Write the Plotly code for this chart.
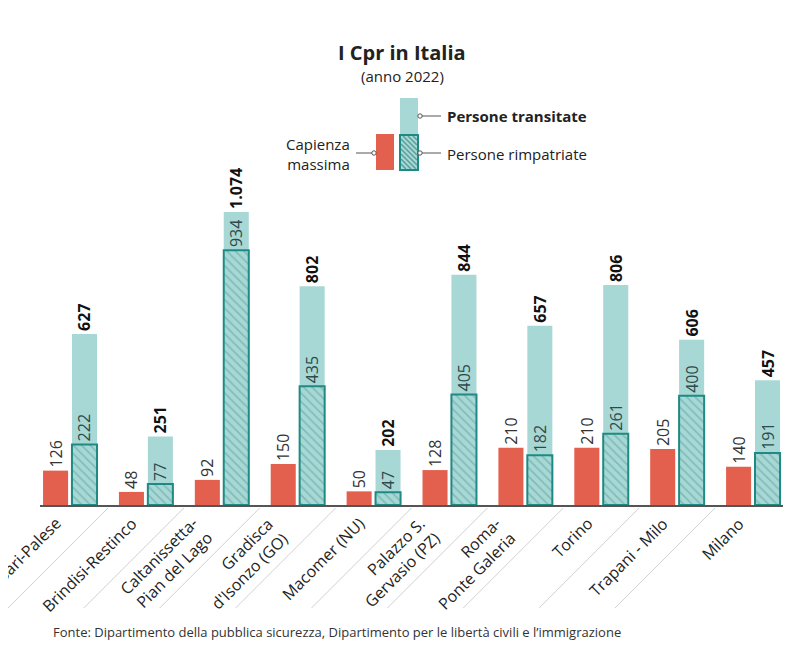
import plotly.graph_objects as go

# ---------------- data ----------------
categories = ["Bari-Palese", "Brindisi-Restinco", "Caltanissetta-Pian del Lago",
              "Gradisca d'Isonzo (GO)", "Macomer (NU)", "Palazzo S. Gervasio (PZ)",
              "Roma-Ponte Galeria", "Torino", "Trapani - Milo", "Milano"]
tick_labels = ["Bari-Palese", "Brindisi-Restinco", "Caltanissetta-<br>Pian del Lago",
               "Gradisca<br>d'Isonzo (GO)", "Macomer (NU)", "Palazzo S.<br>Gervasio (PZ)",
               "Roma-<br>Ponte Galeria", "Torino", "Trapani - Milo", "Milano"]
capienza = [126, 48, 92, 150, 50, 128, 210, 210, 205, 140]
transitate = [627, 251, 1074, 802, 202, 844, 657, 806, 606, 457]
rimpatriate = [222, 77, 934, 435, 47, 405, 182, 261, 400, 191]

# ---------------- style ----------------
OFF = 8  # page body margin
W, H = 800 - OFF, 652 - OFF
ML, MR, MT, MB = 40 - OFF, 17, 183 - OFF, 147
PW, PH = W - ML - MR, H - MT - MB
XR = [-0.395, 9.395]
FONT = "Open Sans"
RED = "#e4604e"
LIGHT = "#a8d8d5"
DARK = "#1f8a83"
HATCH = "#5a9f9b"

def it(v):
    return f"{v:,}".replace(",", ".")

def px2p(x, y):
    return (x - OFF - ML) / PW, (H - MB - (y - OFF)) / PH

fig = go.Figure()
fig.add_bar(x=categories, y=capienza, offset=-0.355, width=0.33,
            marker=dict(color=RED, line=dict(width=0)),
            text=[str(v) for v in capienza], textposition="outside", textangle=-90,
            constraintext="none",
            textfont=dict(family=FONT, size=16, color="#333333"), cliponaxis=False)
fig.add_bar(x=categories, y=transitate, offset=0.026, width=0.33,
            marker=dict(color=LIGHT, line=dict(width=0)),
            text=[f"<b>{it(v)}</b>" for v in transitate], textposition="outside", textangle=-90,
            constraintext="none",
            textfont=dict(family=FONT, size=16, color="#111111"), cliponaxis=False)
fig.add_bar(x=categories, y=rimpatriate, offset=0.026, width=0.33,
            marker=dict(color=LIGHT, line=dict(width=2, color=DARK),
                        pattern=dict(shape="\\", fgcolor=HATCH, size=6, solidity=0.3)),
            text=[str(v) for v in rimpatriate], textposition="outside", textangle=-90,
            constraintext="none",
            textfont=dict(family=FONT, size=16, color="#2f4a4a"), cliponaxis=False)

shapes = []
annotations = []

# separator diagonal lines under category labels (paper-anchored at category midpoints)
for i in range(len(categories) - 1):
    xa = (i + 0.5 - XR[0]) / (XR[1] - XR[0])
    shapes.append(dict(type="line", xref="paper", yref="paper", xsizemode="pixel", ysizemode="pixel",
                       xanchor=xa, yanchor=0, x0=0, y0=-3, x1=-100, y1=-103,
                       line=dict(color="#d0d0d0", width=1), layer="above"))

# category labels
for c, lab in zip(categories, tick_labels):
    annotations.append(dict(x=c, y=0, xref="x", yref="y", xshift=-2, yshift=-5,
                            text=lab, showarrow=False, textangle=-45, align="right",
                            xanchor="right", yanchor="top",
                            font=dict(family=FONT, size=16, color="#222222")))

# title
for txt, y, size in [("<b>I Cpr in Italia</b>", 52, 20), ("(anno 2022)", 76, 15)]:
    xp, yp = px2p(402, y)
    annotations.append(dict(x=xp, y=yp, xref="paper", yref="paper", text=txt, showarrow=False,
                            xanchor="center", yanchor="middle",
                            font=dict(family=FONT, size=size, color="#222222")))

# legend
def rect(x0, y0, x1, y1, fill, line=None):
    a = px2p(x0, y0); b = px2p(x1, y1)
    return dict(type="rect", xref="paper", yref="paper", x0=a[0], y0=a[1], x1=b[0], y1=b[1],
                fillcolor=fill, line=line or dict(width=0), layer="above")

shapes.append(rect(400, 98, 418, 135, LIGHT))
shapes.append(rect(376, 134, 394, 170, RED))
shapes.append(rect(400, 135, 418, 170, LIGHT))
hx0, hy0, hx1, hy1 = 401, 136, 417, 169
path = ""
k = hx0 - (hy1 - hy0)
while k < hx1:
    xs, ys = k, hy0
    xe, ye = k + (hy1 - hy0), hy1
    if xs < hx0:
        ys = hy0 + (hx0 - xs); xs = hx0
    if xe > hx1:
        ye = hy1 - (xe - hx1); xe = hx1
    if ys < ye:
        a = px2p(xs, ys); b = px2p(xe, ye)
        path += f"M{a[0]:.5f},{a[1]:.5f}L{b[0]:.5f},{b[1]:.5f}"
    k += 5
shapes.append(dict(type="path", xref="paper", yref="paper", path=path,
                   line=dict(color=HATCH, width=1.5), layer="above"))
shapes.append(rect(400, 135, 418, 170, "rgba(0,0,0,0)", dict(color=DARK, width=2)))

def seg(x0, y, x1):
    a = px2p(x0, y); b = px2p(x1, y)
    return dict(type="line", xref="paper", yref="paper", x0=a[0], y0=a[1], x1=b[0], y1=b[1],
                line=dict(color="#555555", width=1), layer="above")

def dot(x, y):
    a = px2p(x - 2.2, y - 2.2); b = px2p(x + 2.2, y + 2.2)
    return dict(type="circle", xref="paper", yref="paper", x0=a[0], y0=a[1], x1=b[0], y1=b[1],
                fillcolor="white", line=dict(color="#555555", width=1), layer="above")

shapes += [seg(422, 116, 441), dot(420, 116),
           seg(422, 153, 441), dot(420, 153),
           seg(356, 153, 372), dot(374, 153)]

for txt, x, y, anchor in [("<b>Persone transitate</b>", 445, 116, "left"),
                          ("Persone rimpatriate", 445, 154, "left"),
                          ("Capienza<br>massima", 352, 154, "right")]:
    xp, yp = px2p(x, y)
    annotations.append(dict(x=xp, y=yp, xref="paper", yref="paper", text=txt, showarrow=False,
                            xanchor=anchor, yanchor="middle", align=anchor,
                            font=dict(family=FONT, size=15, color="#222222")))

# source
xp, yp = px2p(51, 632)
annotations.append(dict(x=xp, y=yp, xref="paper", yref="paper",
                        text="Fonte: Dipartimento della pubblica sicurezza, Dipartimento per le libertà civili e l’immigrazione",
                        showarrow=False, xanchor="left", yanchor="middle",
                        font=dict(family=FONT, size=13, color="#333333")))

fig.update_layout(
    width=W, height=H, margin=dict(l=ML, r=MR, t=MT, b=MB),
    barmode="overlay", showlegend=False,
    plot_bgcolor="white", paper_bgcolor="white",
    font=dict(family=FONT),
    xaxis=dict(range=XR, showticklabels=False, ticks="", showgrid=False,
               zeroline=False, showline=True, linecolor="#555555", linewidth=1.5),
    yaxis=dict(range=[0, 1180], visible=False, fixedrange=True),
    shapes=shapes, annotations=annotations,
)

fig.write_html("out.html")
